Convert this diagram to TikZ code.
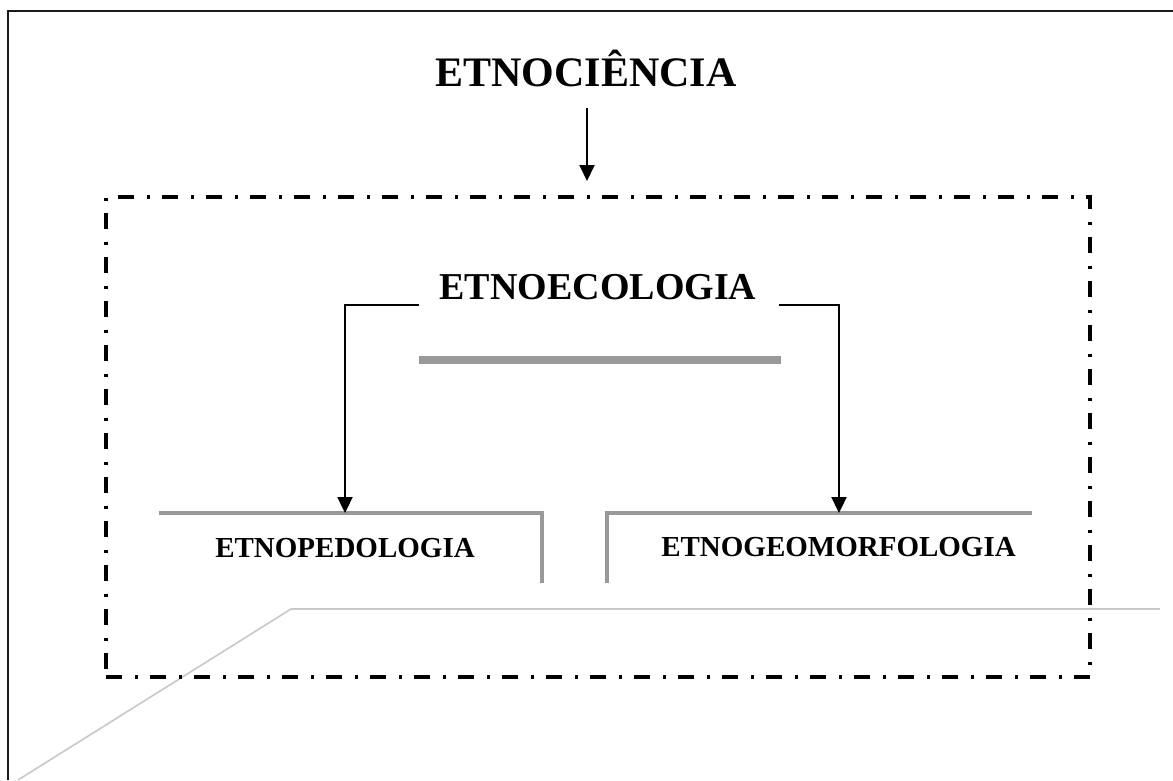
\documentclass[tikz,border=0pt]{standalone}
\usepackage{fontspec}
\setmainfont{Liberation Serif}
\usetikzlibrary{arrows.meta}
\definecolor{bargray}{HTML}{999999}
\definecolor{thingray}{HTML}{C8C8C8}
\definecolor{framecol}{HTML}{1A1A1A}
\begin{document}
\begin{tikzpicture}[x=1pt,y=-1pt,
  lbl/.style={inner sep=0pt, anchor=base},
  bigtitle/.style={lbl, font=\fontsize{42}{46}\selectfont\bfseries},
  midtitle/.style={lbl, font=\fontsize{38}{42}\selectfont\bfseries},
  smalltitle/.style={lbl, font=\fontsize{29}{33}\selectfont\bfseries},
  arr/.style={line width=2pt, -{Triangle[width=15pt,length=16pt]}},
  conn/.style={line width=2.3pt, -{Triangle[width=15pt,length=16pt]}},
  dashdotbox/.style={draw, line width=3.3pt, dash pattern=on 16pt off 12.5pt on 3pt off 12.5pt, inner sep=0pt},
  graybracket/.style={draw=bargray, line width=4.5pt},
  graybar/.style={draw=bargray, line width=8pt},
  thinline/.style={draw=thingray, line width=1.6pt},
  frameline/.style={draw=framecol, line width=2.2pt}
]
\useasboundingbox (0,0) rectangle (1173,780);
% outer frame
\draw[frameline] (1173,11) -- (8,11) -- (8,780);
% thin light grey line
\draw[thinline] (18,780) -- (291,609) -- (1160,609);
% dash-dot box
\node[dashdotbox, minimum width=984pt, minimum height=480pt] (box) at (598,437) {};
% title
\node[bigtitle] (cien) at (586,86) {ETNOCIÊNCIA};
\coordinate (boxtop) at (587,181);
\draw[arr] ([yshift=-21pt]cien.south -| boxtop) -- (boxtop);
% etnoecologia
\node[midtitle] (eco) at (598,299.5) {ETNOECOLOGIA};
\draw[graybar] (419,360) -- (781,360);
% sub-branches
\draw[graybracket] (159,513) -- (542,513) -- (542,583);
\draw[graybracket] (1032,513) -- (607,513) -- (607,583);
\node[smalltitle] (ped) at (345,557) {ETNOPEDOLOGIA};
\node[smalltitle] (geo) at (838.5,556) {ETNOGEOMORFOLOGIA};
\coordinate (pedtop) at (345,513);
\coordinate (geotop) at (839,513);
\coordinate (lb) at (419,305);
\coordinate (rb) at (779,305);
\draw[conn] (lb) -| (pedtop);
\draw[conn] (rb) -| (geotop);
\end{tikzpicture}
\end{document}
